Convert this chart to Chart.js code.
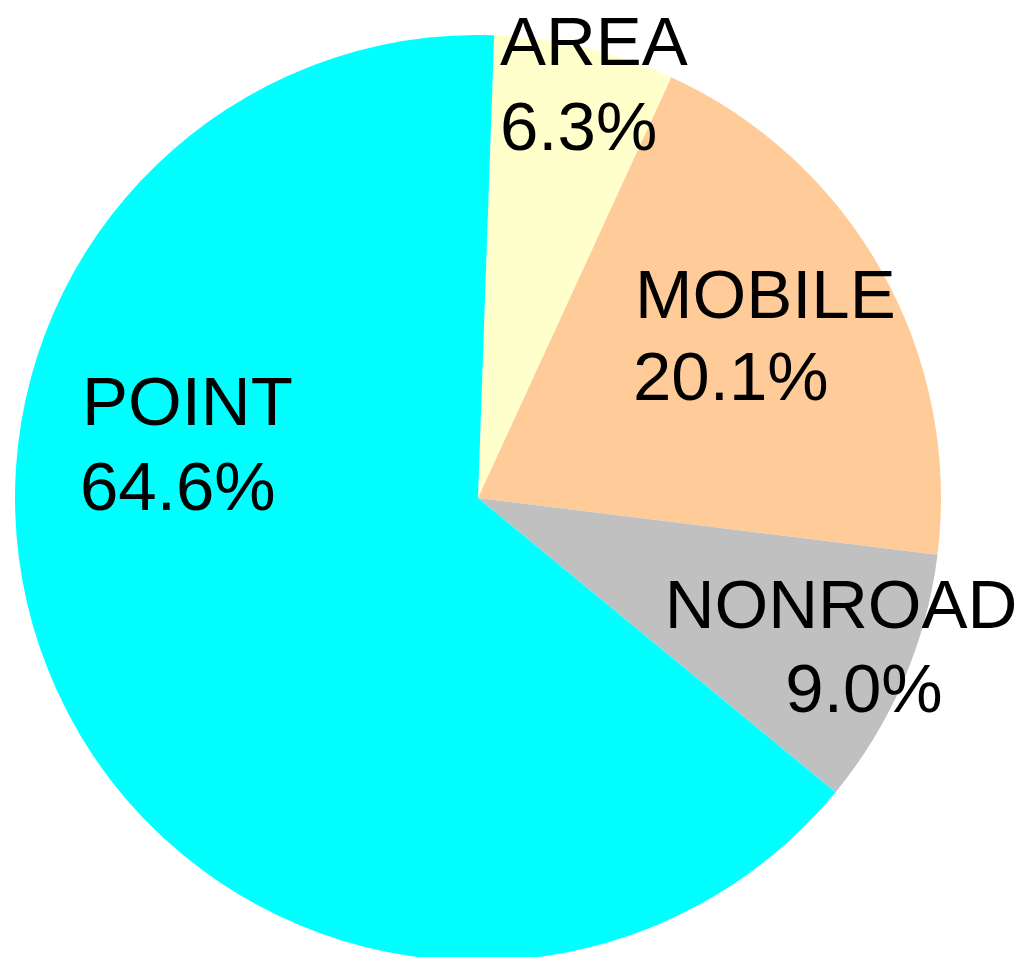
<!DOCTYPE html>
<html>
<head>
<meta charset="utf-8">
<title>Emissions by source category</title>
<script src="https://cdn.jsdelivr.net/npm/chart.js@4/dist/chart.umd.min.js"></script>
<style>
  html, body { margin: 0; padding: 0; background: #fff; overflow: hidden; }
  #wrap { width: 1025px; height: 957px; overflow: hidden; }
  canvas { display: block; }
</style>
</head>
<body>
<div id="wrap">
  <canvas id="pieChart" width="1025" height="1000"></canvas>
</div>
<script>
// data, clockwise from the top
const categories = ["AREA", "MOBILE", "NONROAD", "POINT"];
const shares = [6.3, 20.1, 9.0, 64.6];
const sliceColors = ["#FFFFCC", "#FFCC99", "#C0C0C0", "#00FFFF"];

// where each label sits, relative to pie centre, in px for a radius of 463
const labelSpots = [
  { align: "left",   x: [22, 22],    y: [-433, -348] },
  { align: "left",   x: [157, 155],  y: [-180, -98] },
  { align: "center", x: [363, 386],  y: [130, 214] },
  { align: "left",   x: [-396, -398], y: [-73, 12] }
];

const sliceLabels = {
  id: "sliceLabels",
  afterDatasetsDraw(chart) {
    const ctx = chart.ctx;
    const meta = chart.getDatasetMeta(0);
    const arc = meta.data[0];
    const cx = arc.x, cy = arc.y;
    const k = arc.outerRadius / 463;
    ctx.save();
    ctx.font = "69px 'Liberation Sans', Arial, sans-serif";
    ctx.fillStyle = "#000";
    ctx.textBaseline = "alphabetic";
    categories.forEach((name, i) => {
      const spot = labelSpots[i];
      const lines = [name, shares[i].toFixed(1) + "%"];
      ctx.textAlign = spot.align;
      lines.forEach((txt, j) => {
        ctx.fillText(txt, cx + spot.x[j] * k, cy + spot.y[j] * k);
      });
    });
    ctx.restore();
  }
};

const ctx = document.getElementById("pieChart").getContext("2d");
new Chart(ctx, {
  type: "pie",
  data: {
    labels: categories,
    datasets: [{
      data: shares,
      backgroundColor: sliceColors,
      borderWidth: 0
    }]
  },
  options: {
    responsive: false,
    animation: false,
    devicePixelRatio: 1,
    rotation: 2,
    layout: { padding: { left: 15, top: 35, right: 84, bottom: 39 } },
    plugins: {
      legend: { display: false },
      tooltip: { enabled: false }
    }
  },
  plugins: [sliceLabels]
});
</script>
</body>
</html>
